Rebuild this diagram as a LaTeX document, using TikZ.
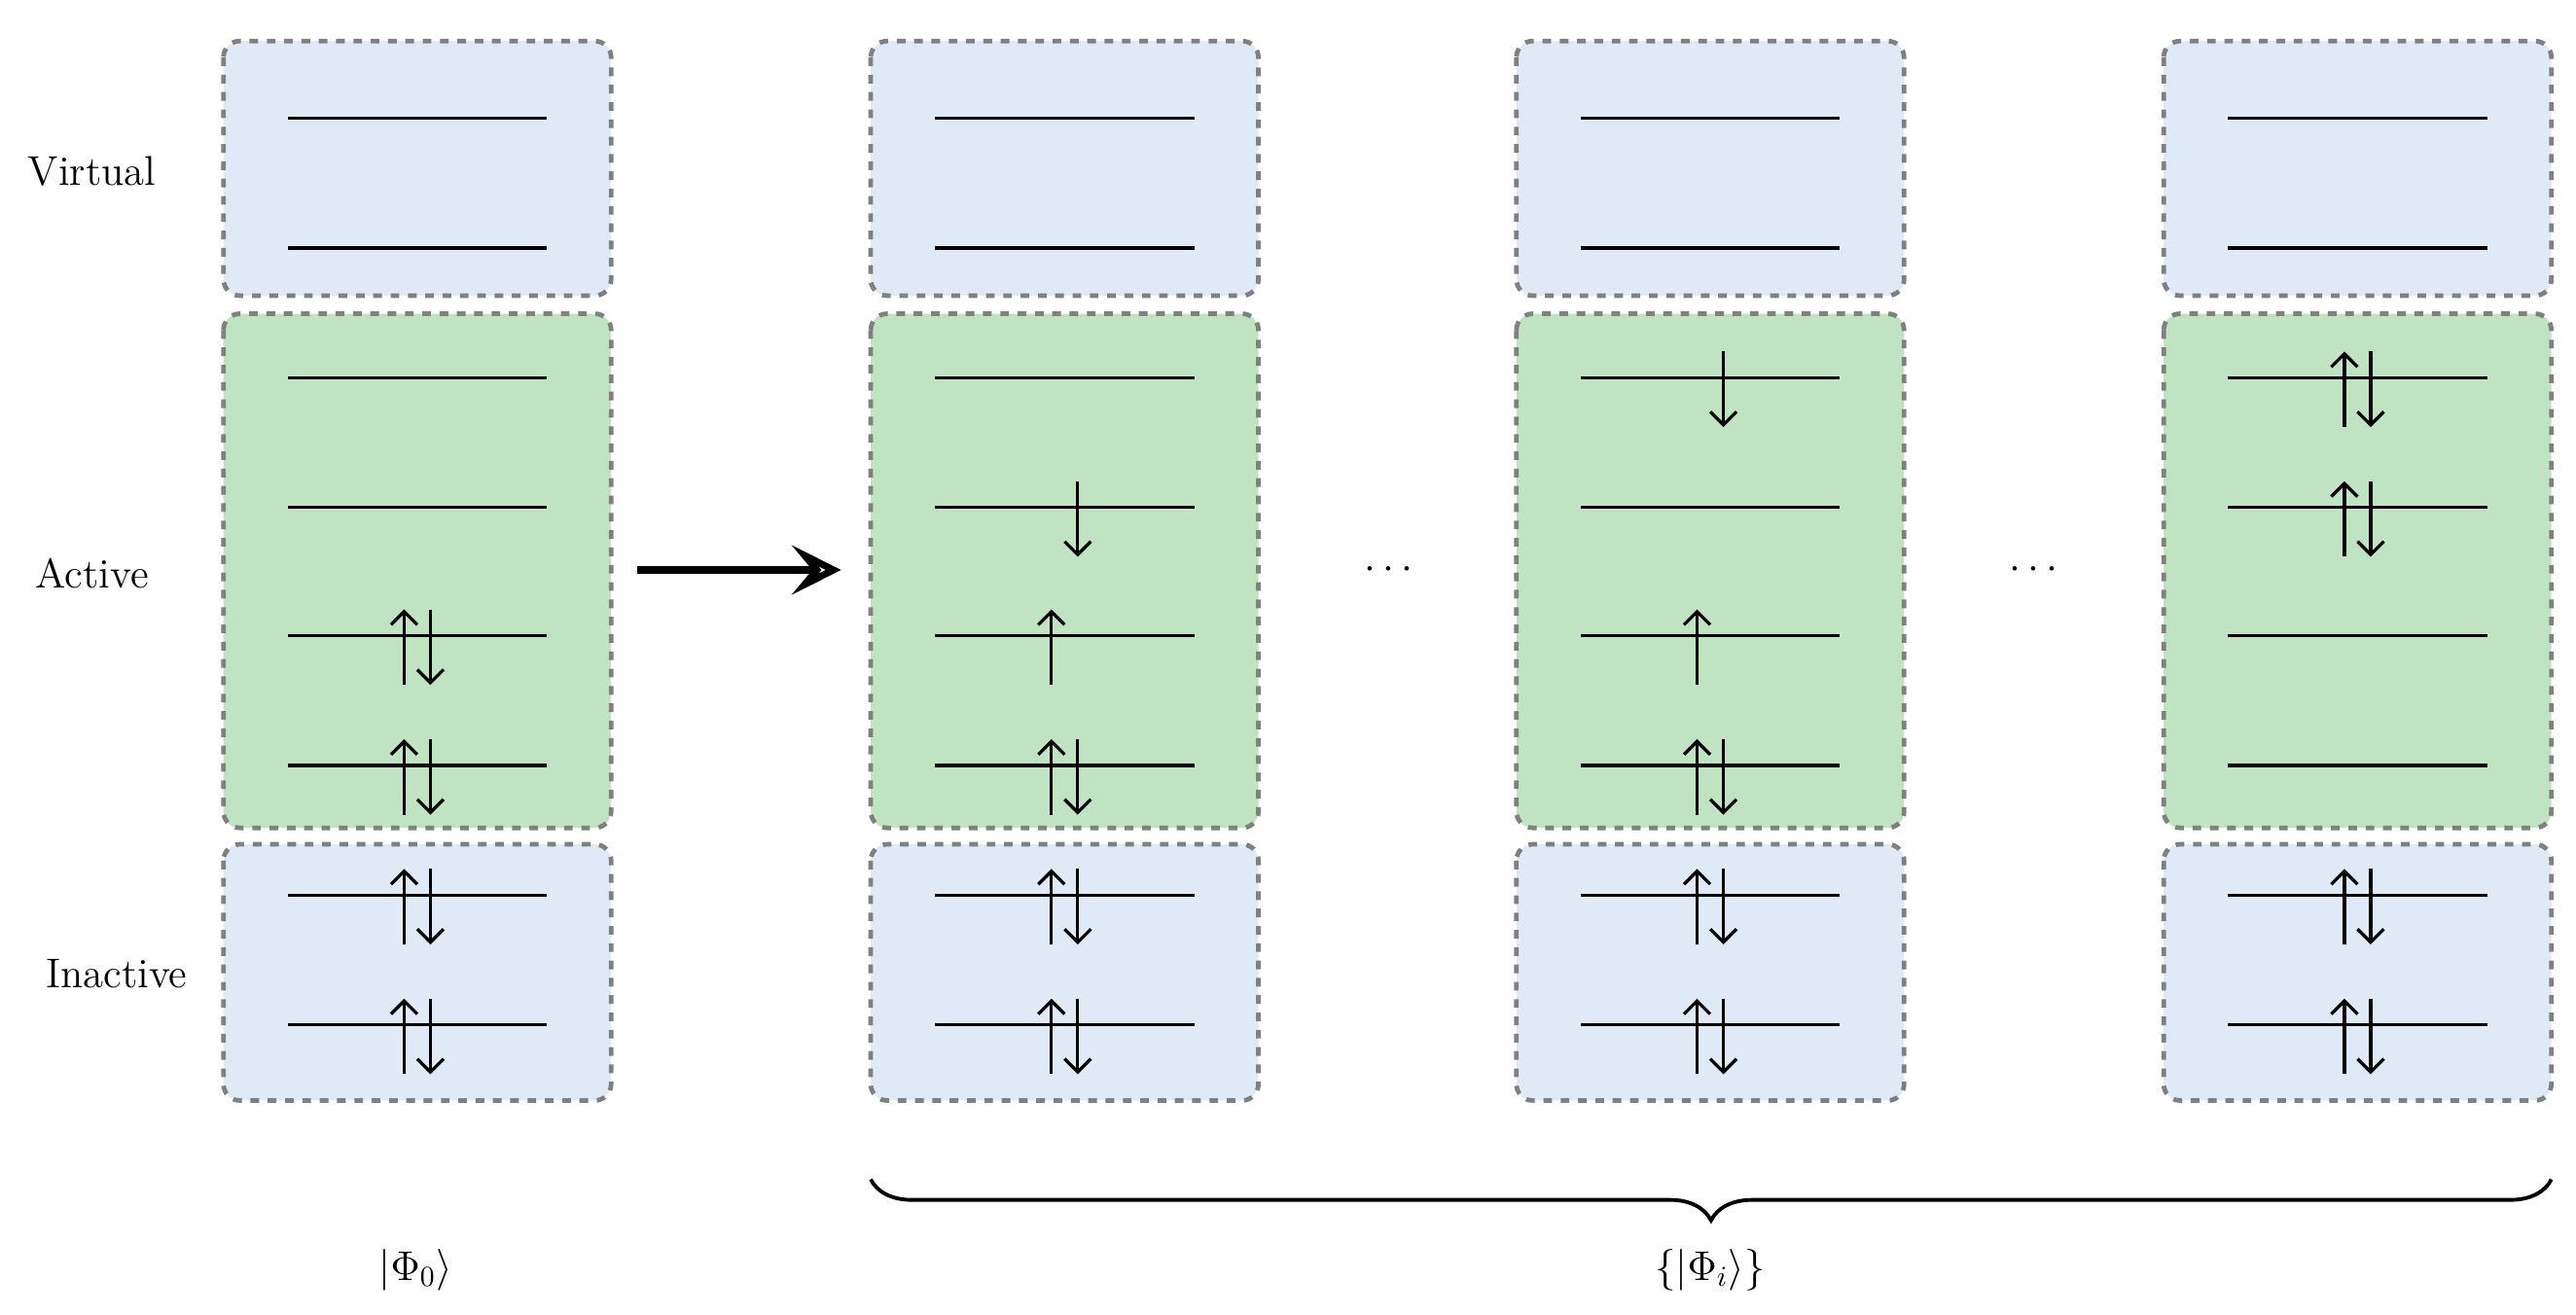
\documentclass[tikz,border=0pt]{standalone}
\usepackage{tikz}
\usetikzlibrary{arrows.meta,decorations.pathreplacing}
\definecolor{orbblue}{HTML}{E0EAF6}
\definecolor{orbgreen}{HTML}{C0E4C2}
\begin{document}
\begin{tikzpicture}[x=0.02cm, y=-0.02cm,
  box/.style = {draw=gray, dashed, line width=1.6pt, rounded corners=0.2cm},
  level/.style = {line width=1.1pt},
  spin/.style = {line width=1.1pt, -{Straight Barb[length=1.6mm,width=3.2mm]}},
  lbl/.style = {font=\Large}]
  \useasboundingbox (0,0) rectangle (1568,800);
  % orbital boxes
  \foreach \x in {136,530,923,1317} {
    \draw[box, fill=orbblue] (\x,25) rectangle (\x+236,180);
    \draw[box, fill=orbgreen] (\x,191) rectangle (\x+236,504);
    \draw[box, fill=orbblue] (\x,514) rectangle (\x+236,670);
    \foreach \y in {72,151,230,309,387,466,545,624}
      \draw[level] (\x+39,\y) -- (\x+197,\y);
  }
  % electrons: column / level / u, d or ud
  \foreach \x/\y/\s in {136/387/ud,136/466/ud,136/545/ud,136/624/ud,
      530/309/d,530/387/u,530/466/ud,530/545/ud,530/624/ud,
      923/230/d,923/387/u,923/466/ud,923/545/ud,923/624/ud,
      1317/230/ud,1317/309/ud,1317/545/ud,1317/624/ud} {
    \if\s u\draw[spin] (\x+110,\y+30) -- (\x+110,\y-16);\fi
    \if\s d\draw[spin] (\x+126,\y-16) -- (\x+126,\y+30);\fi
    \ifnum\pdfstrcmp{\s}{ud}=0
      \draw[spin] (\x+110,\y+30) -- (\x+110,\y-16);
      \draw[spin] (\x+126,\y-16) -- (\x+126,\y+30);
    \fi
  }
  % labels
  \node[lbl] (virtual) at (56,104) {Virtual};
  \node[lbl] (active) at (56,349) {Active};
  \node[lbl] (inactive) at (71,593) {Inactive};
  \node[lbl] (dots1) at (845,347) {$\cdots$};
  \node[lbl] (dots2) at (1238,347) {$\cdots$};
  \node[lbl] (phi0) at (253,773) {$|\Phi_0\rangle$};
  \node[lbl] (phii) at (1041,773) {$\{|\Phi_i\rangle\}$};
  % excitation arrow
  \coordinate (from) at (388,347);
  \coordinate (to) at (512,347);
  \draw[line width=2.4pt, -{Stealth[open, length=6mm, width=6mm, inset=2.5mm]}] (from) -- (to);
  % brace over the excited set
  \coordinate (bl) at (530,718);
  \coordinate (br) at (1553,718);
  \draw[line width=1.3pt, decorate, decoration={brace, mirror, amplitude=0.5cm}] (bl) -- (br);
\end{tikzpicture}
\end{document}
